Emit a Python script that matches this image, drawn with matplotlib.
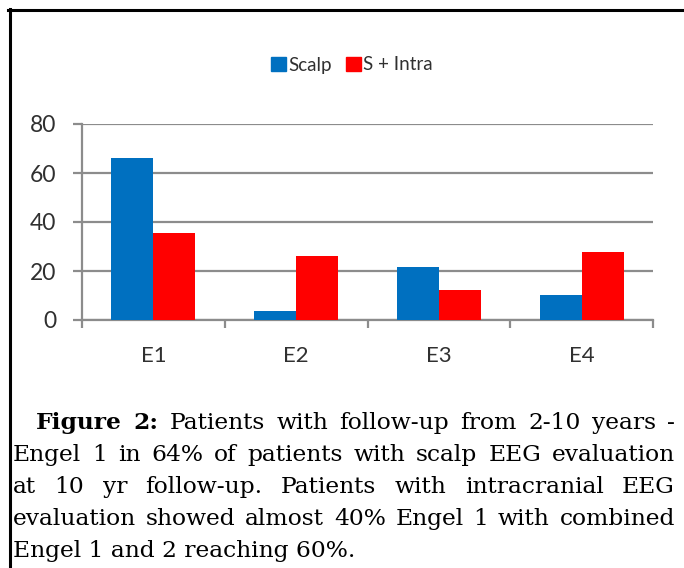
import matplotlib
matplotlib.use("Agg")
import matplotlib.pyplot as plt
from matplotlib.patches import Patch
from matplotlib.lines import Line2D
import numpy as np

# ---------------- data ----------------
categories = ["E1", "E2", "E3", "E4"]
scalp = [66.1, 3.6, 21.6, 10.4]
s_intra = [35.6, 26.2, 12.4, 27.6]
series_names = ["Scalp", "S + Intra"]
yticks = [0, 20, 40, 60, 80]

caption_lines = [
    [("Figure", "bold"), ("2:", "bold"), ("Patients", "normal"), ("with", "normal"),
     ("follow-up", "normal"), ("from", "normal"), ("2-10", "normal"),
     ("years", "normal"), ("-", "normal")],
    "Engel 1 in 64% of patients with scalp EEG evaluation",
    "at 10 yr follow-up. Patients with intracranial EEG",
    "evaluation showed almost 40% Engel 1 with combined",
    "Engel 1 and 2 reaching 60%.",
]

# ---------------- figure ----------------
W, H = 684, 568
fig = plt.figure(figsize=(W / 100, H / 100), dpi=100)
fig.patch.set_facecolor("white")

BLUE = "#0070C0"
RED = "#FF0000"
GRAY = "#8c8c8c"
TXT = "#303030"
CHART_FONT = "Lato"

ax = fig.add_axes([82 / W, 1 - 320 / H, (653 - 82) / W, (320 - 124) / H])
x = np.arange(len(categories))
bw = 0.294
ax.bar(x - bw / 2, scalp, bw, color=BLUE, zorder=3)
ax.bar(x + bw / 2, s_intra, bw, color=RED, zorder=3)

ax.set_xlim(-0.5, len(categories) - 0.5)
ax.set_ylim(0, 80)
ax.set_yticks(yticks)
ax.set_yticklabels([str(v) for v in yticks], fontfamily=CHART_FONT)
ax.yaxis.grid(True, color=GRAY, lw=1.6)
ax.set_axisbelow(True)
for s in ["top", "right"]:
    ax.spines[s].set_visible(False)
for s in ["left", "bottom"]:
    ax.spines[s].set_color(GRAY)
    ax.spines[s].set_linewidth(1.6)
ax.tick_params(axis="y", length=6.5, width=1.6, color=GRAY, pad=12,
               labelsize=16.5, labelcolor=TXT)
ax.set_xticks(x)
ax.set_xticklabels(categories, fontfamily=CHART_FONT)
ax.tick_params(axis="x", which="major", length=0, pad=19, labelsize=16, labelcolor=TXT)
ax.set_xticks(np.arange(-0.5, len(categories), 1), minor=True)
ax.tick_params(axis="x", which="minor", length=6, width=1.6, color=GRAY)

handles = [Patch(color=BLUE), Patch(color=RED)]
leg = fig.legend(handles, series_names, loc="center", bbox_to_anchor=(352 / W, 1 - 65 / H),
                 ncol=2, frameon=False, handlelength=0.8, handleheight=0.8,
                 handletextpad=0.1, columnspacing=0.8,
                 prop={"family": CHART_FONT, "size": 13.5})
for t in leg.get_texts():
    t.set_color(TXT)

# ---------------- border ----------------
fig.add_artist(Line2D([8 / W, 1.0], [1 - 10 / H, 1 - 10 / H], transform=fig.transFigure,
                      color="black", lw=2.2))
fig.add_artist(Line2D([9.5 / W, 9.5 / W], [1 - 9 / H, 0.0], transform=fig.transFigure,
                      color="black", lw=2.2))

# ---------------- caption (justified) ----------------
renderer = fig.canvas.get_renderer()
CAP_KW = dict(fontfamily="DejaVu Serif")


def tw(s, size, weight="normal"):
    t = fig.text(0, 0, s, fontsize=size, fontweight=weight, **CAP_KW)
    w = t.get_window_extent(renderer).width
    t.remove()
    return w


left, right, indent = 13, 675, 36
ref = 10.0
scales = []
for i, line in enumerate(caption_lines[:4]):
    avail = right - (indent if i == 0 else left)
    if isinstance(line, str):
        nat = tw(line, ref)
    else:
        nat = sum(tw(w, ref, wt) for w, wt in line) + (len(line) - 1) * tw(" ", ref) * 0.9
    scales.append(avail / nat)
fs = min(16.8, ref * min(scales) * 0.985)

baselines = [429, 461, 493, 525, 557]
for i, line in enumerate(caption_lines):
    y = 1 - baselines[i] / H
    if i == len(caption_lines) - 1:
        fig.text(left / W, y, line, fontsize=fs, va="baseline", color="black", **CAP_KW)
        continue
    words = line if not isinstance(line, str) else [(w, "normal") for w in line.split(" ")]
    x0 = indent if i == 0 else left
    widths = [tw(w, fs, wt) for w, wt in words]
    gap = (right - x0 - sum(widths)) / (len(words) - 1)
    xp = x0
    for (w, wt), wd in zip(words, widths):
        fig.text(xp / W, y, w, fontsize=fs, fontweight=wt, va="baseline", color="black",
                 **CAP_KW)
        xp += wd + gap

fig.savefig("out.png", dpi=100, facecolor="white")
